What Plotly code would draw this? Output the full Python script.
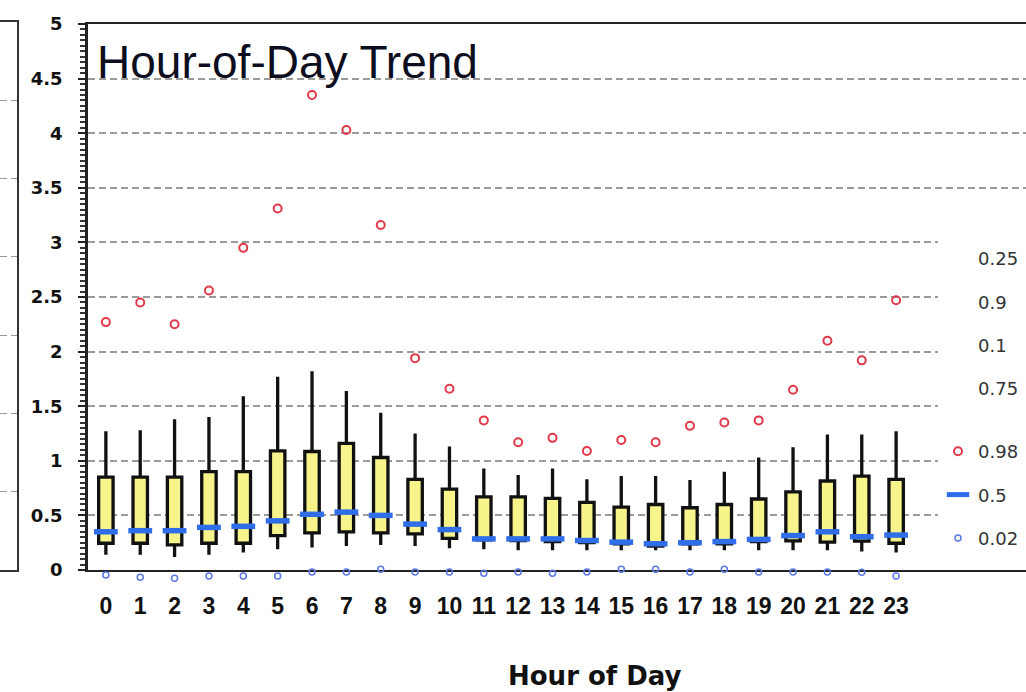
import plotly.graph_objects as go

# ---- data ----
hours = list(range(24))
hour_labels = [str(h) for h in hours]
p98 = [2.27, 2.45, 2.25, 2.56, 2.95, 3.31, 4.35, 4.03, 3.16, 1.94, 1.66, 1.37,
       1.17, 1.21, 1.09, 1.19, 1.17, 1.32, 1.35, 1.37, 1.65, 2.10, 1.92, 2.47]
p90 = [1.27, 1.28, 1.38, 1.40, 1.59, 1.77, 1.82, 1.64, 1.44, 1.25, 1.13, 0.93,
       0.87, 0.93, 0.83, 0.86, 0.86, 0.825, 0.90, 1.03, 1.125, 1.24, 1.24, 1.27]
p75 = [0.85, 0.85, 0.85, 0.90, 0.90, 1.09, 1.085, 1.16, 1.03, 0.83, 0.74, 0.67,
       0.67, 0.655, 0.62, 0.575, 0.60, 0.57, 0.60, 0.65, 0.715, 0.815, 0.86, 0.83]
p50 = [0.35, 0.36, 0.36, 0.39, 0.40, 0.45, 0.51, 0.53, 0.50, 0.42, 0.37, 0.285,
       0.285, 0.285, 0.27, 0.255, 0.24, 0.25, 0.26, 0.28, 0.315, 0.35, 0.305, 0.32]
p25 = [0.245, 0.245, 0.23, 0.245, 0.245, 0.315, 0.34, 0.35, 0.34, 0.33, 0.29, 0.275,
       0.27, 0.26, 0.25, 0.24, 0.22, 0.24, 0.24, 0.26, 0.266, 0.255, 0.265, 0.245]
p10 = [0.14, 0.14, 0.12, 0.14, 0.16, 0.19, 0.205, 0.22, 0.23, 0.22, 0.20, 0.19,
       0.18, 0.18, 0.18, 0.18, 0.18, 0.18, 0.18, 0.18, 0.18, 0.18, 0.17, 0.16]
p02 = [-0.045, -0.067, -0.076, -0.055, -0.055, -0.055, -0.018, -0.018, 0.006, -0.018, -0.018, -0.03,
       -0.018, -0.03, -0.018, 0.006, 0.006, -0.018, 0.006, -0.018, -0.018, -0.018, -0.02, -0.055]
text_only_quantiles = ["0.25", "0.9", "0.1", "0.75"]

# ---- style ----
W, H = 1026, 692
YELLOW = "#f6f48a"
RED = "#e2394a"
BLUE = "#2f6ee8"
LBLUE = "#5b78e4"
GRID = "#9a9a9a"

PLOT_LEFT, PLOT_TOP, PLOT_BOTTOM = 88, 24, 570
Y_MAX = 5
PX_PER_UNIT = (PLOT_BOTTOM - PLOT_TOP) / Y_MAX
LOW_BOTTOM = 585  # lower band used for the near-zero 0.02 markers
LOW_MIN = -(LOW_BOTTOM - PLOT_BOTTOM) / PX_PER_UNIT


def fx(p):
    return p / W


def fy(p):
    return (H - p) / H


fig = go.Figure()

fig.add_trace(go.Box(
    x=hours, q1=p25, median=p50, q3=p75, lowerfence=p10, upperfence=p90,
    width=0.42, fillcolor=YELLOW, line=dict(color="#111111", width=3.3),
    whiskerwidth=0, boxpoints=False, showlegend=False, hoverinfo="skip",
))

# text-only legend entries
for i, q in enumerate(text_only_quantiles):
    fig.add_trace(go.Scatter(
        x=[None], y=[None], mode="markers", name=q,
        marker=dict(color="rgba(0,0,0,0)", size=1),
        legend="legend", legendgroup="t" + q, legendrank=i + 1,
    ))

fig.add_trace(go.Scatter(
    x=hours, y=p98, mode="markers", name="0.98", cliponaxis=False,
    marker=dict(symbol="circle-open", size=8, color=RED, line=dict(width=2, color=RED)),
    legend="legend2", legendgroup="a", legendrank=1,
))
fig.add_trace(go.Scatter(
    x=hours, y=p50, mode="markers", name="0.5", cliponaxis=False,
    marker=dict(symbol="line-ew", size=17, color=BLUE, line=dict(width=5.5, color=BLUE)),
    legend="legend2", legendgroup="b", legendrank=2,
))
fig.add_trace(go.Scatter(
    x=hours, y=p02, mode="markers", name="0.02", cliponaxis=False, yaxis="y3",
    marker=dict(symbol="circle-open", size=6, color=LBLUE, line=dict(width=1.5, color=LBLUE)),
    legend="legend2", legendgroup="c", legendrank=3,
))

# partial neighbouring panel on the far left
fig.add_trace(go.Scatter(x=[None], y=[None], xaxis="x2", yaxis="y2",
                         showlegend=False, hoverinfo="skip"))

legend_common = dict(
    xanchor="left", yanchor="top", bgcolor="rgba(0,0,0,0)",
    font=dict(family="DejaVu Sans", size=18, color="#333333"),
    traceorder="grouped", tracegroupgap=17, itemclick=False, itemdoubleclick=False,
)

fig.update_layout(
    width=W, height=H, margin=dict(l=0, r=0, t=0, b=0, autoexpand=False),
    plot_bgcolor="rgba(0,0,0,0)", paper_bgcolor="white", showlegend=True,
    xaxis=dict(
        domain=[fx(PLOT_LEFT), 1], range=[-0.52, 26.78], automargin=False,
        tickmode="array", tickvals=hours, ticktext=hour_labels,
        ticks="", showgrid=False, zeroline=False,
        showline=True, mirror=True, linecolor="#222222", linewidth=2,
        tickfont=dict(family="Liberation Sans", size=23, color="#111111", weight="bold"),
        ticklabelstandoff=14,
    ),
    yaxis=dict(
        domain=[fy(PLOT_BOTTOM), fy(PLOT_TOP)], range=[0, Y_MAX], tick0=0, dtick=0.5,
        automargin=False,
        ticks="outside", ticklen=7, tickwidth=2, tickcolor="#222222",
        showline=True, linecolor="#222222", linewidth=2.5,
        showgrid=True, gridcolor=GRID, gridwidth=1.5, griddash="7px,4px",
        zeroline=False,
        minor=dict(dtick=0.05, ticks="outside", ticklen=5, tickwidth=1.5,
                   tickcolor="#333333", showgrid=False),
        tickfont=dict(family="DejaVu Sans", size=18, color="#111111", weight="bold"),
        ticklabelstandoff=12,
    ),
    yaxis3=dict(
        domain=[fy(LOW_BOTTOM), fy(PLOT_TOP)], range=[LOW_MIN, Y_MAX], anchor="x",
        visible=False, automargin=False, showgrid=False, zeroline=False,
    ),
    xaxis2=dict(
        domain=[0, fx(17)], range=[0, 1], anchor="y2", automargin=False,
        showline=True, mirror=True, linecolor="#333333", linewidth=2,
        showticklabels=False, ticks="", showgrid=False, zeroline=False,
    ),
    yaxis2=dict(
        domain=[fy(570), fy(22)], range=[0, 7], dtick=1, anchor="x2", side="right",
        automargin=False,
        showline=True, linecolor="#333333", linewidth=2,
        showticklabels=False, ticks="", showgrid=True, gridcolor=GRID,
        griddash="7px,4px", zeroline=False,
    ),
    legend=dict(x=fx(938), y=fy(240), **legend_common),
    legend2=dict(x=fx(938), y=fy(433), **legend_common),
    shapes=[dict(
        type="rect", xref="paper", yref="y", x0=fx(938), x1=1, y0=0.04, y1=3.2,
        fillcolor="white", line=dict(width=0), layer="above",
    )],
    annotations=[
        dict(text="Hour-of-Day Trend", xref="paper", yref="paper",
             x=fx(95), y=fy(62), xanchor="left", yanchor="middle", showarrow=False,
             font=dict(family="Liberation Sans", size=46, color="#0d0d20")),
        dict(text="Hour of Day", xref="paper", yref="paper",
             x=fx(595), y=fy(676), xanchor="center", yanchor="middle", showarrow=False,
             font=dict(family="DejaVu Sans", size=26, color="#111111", weight="bold")),
    ],
)

fig.write_html("out.html")
